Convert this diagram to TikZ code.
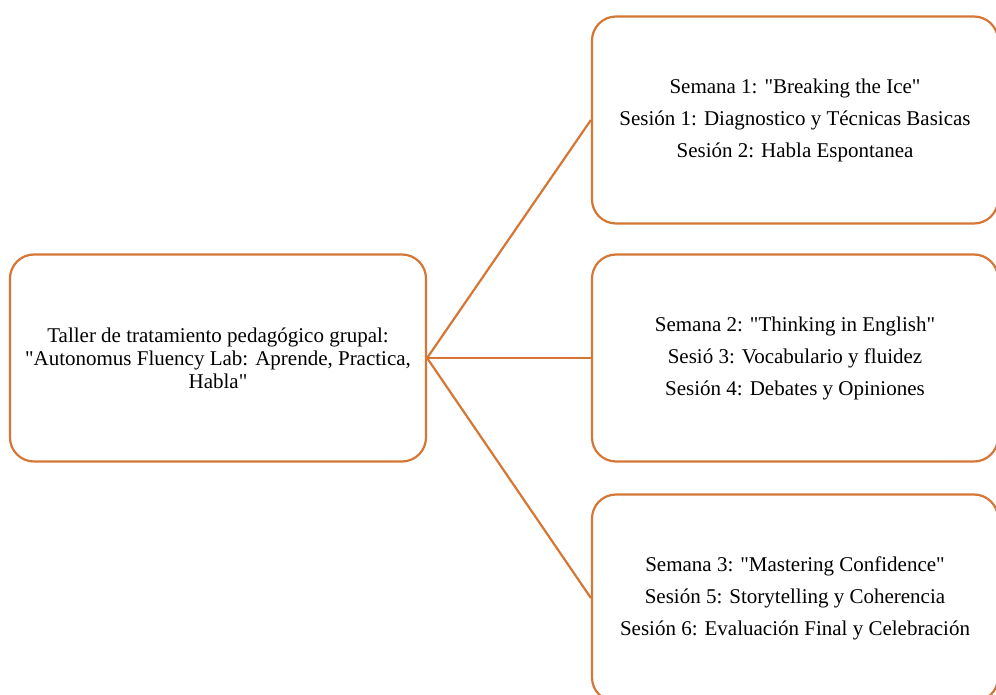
\documentclass[tikz,border=0pt]{standalone}
\usepackage{fontspec}
\setmainfont{Liberation Serif}
\definecolor{wordorange}{RGB}{214,118,52}
\newcommand{\qt}{\textquotedbl}

\begin{document}
\begin{tikzpicture}
[x=1pt, y=-1pt,
taller/.style={draw=wordorange, line width = 2.2pt, rounded corners = 24pt, minimum width = 416pt, minimum height = 207pt, align=center, font=\fontsize{21}{23}\selectfont, inner sep=0pt},
semana/.style={draw=wordorange, line width = 2.2pt, rounded corners = 24pt, minimum width = 406pt, minimum height = 207pt, align=center, font=\fontsize{21}{32}\selectfont, inner sep=0pt},
rama/.style={wordorange, line width = 2.2pt}]
\useasboundingbox (0,0) rectangle (996,695);
\node[taller] (lab) at (218,358) {Taller de tratamiento pedagógico grupal:\\\qt Autonomus Fluency Lab: Aprende, Practica,\\Habla\qt};
\node[semana] (sem1) at (795,120) {Semana 1: \qt Breaking the Ice\qt\\Sesión 1: Diagnostico y Técnicas Basicas\\Sesión 2: Habla Espontanea};
\node[semana] (sem2) at (795,358) {Semana 2: \qt Thinking in English\qt\\Sesió 3: Vocabulario y fluidez\\Sesión 4: Debates y Opiniones};
\node[semana] (sem3) at (795,598) {Semana 3: \qt Mastering Confidence\qt\\Sesión 5: Storytelling y Coherencia\\Sesión 6: Evaluación Final y Celebración};
\draw[rama] (lab.east) -- (sem1.west);
\draw[rama] (lab.east) -- (sem2.west);
\draw[rama] (lab.east) -- (sem3.west);
\end{tikzpicture}
\end{document}
